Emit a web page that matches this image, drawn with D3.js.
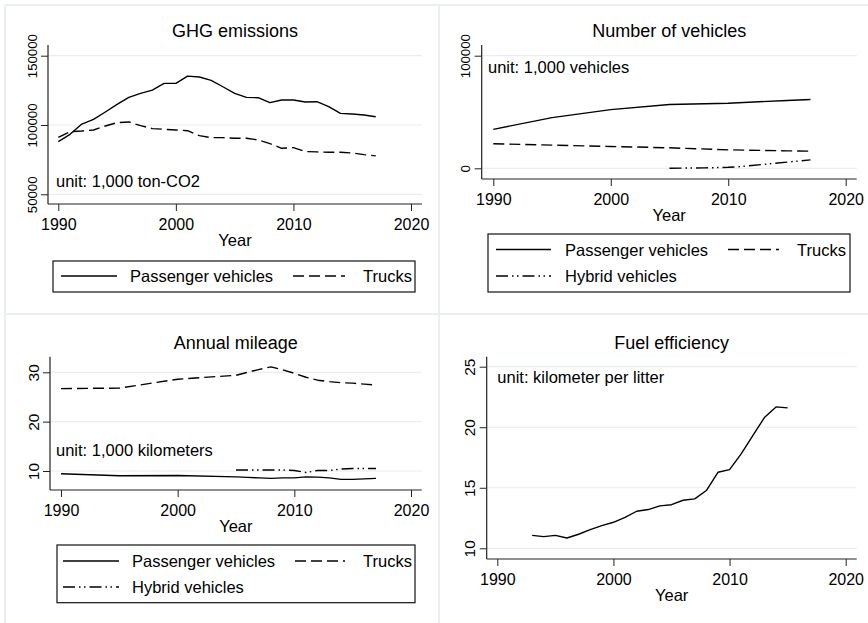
<!DOCTYPE html>
<html lang="en">
<head>
<meta charset="UTF-8">
<title>Vehicles</title>
<script src="https://d3js.org/d3.v7.min.js"></script>
<style>
  body { margin: 0; background: #fff; }
  svg text { font-family: "Liberation Sans", Arial, sans-serif; fill: #000; }
</style>
</head>
<body>
<div id="chart"></div>
<script>
// ---- data ----
const ghgYears = [1990, 1991, 1992, 1993, 1994, 1995, 1996, 1997, 1998, 1999, 2000, 2001, 2002, 2003,
                  2004, 2005, 2006, 2007, 2008, 2009, 2010, 2011, 2012, 2013, 2014, 2015, 2016, 2017]
const ghgPassenger = [88000, 93300, 100700, 104100, 109400, 114900, 119900, 122800, 125200, 130000, 130000,
                      135300, 134600, 132200, 127600, 122800, 119900, 119700, 116100, 118000, 118000, 116600,
                      116800, 113200, 108400, 107900, 107200, 106000]
const ghgTrucks = [91100, 95200, 95700, 96400, 99300, 101700, 102200, 99500, 97400, 96900, 96400, 95900,
                   92300, 90900, 90900, 90400, 90400, 89200, 86600, 83200, 83700, 80800, 80600, 80300,
                   80300, 79800, 78600, 77700]

const vehYears = [1990, 1995, 2000, 2005, 2010, 2015, 2017]
const vehPassenger = [34600, 45000, 52100, 56600, 57800, 60200, 61100]
const vehTrucks = [21800, 20600, 19400, 18200, 16400, 15500, 15200]
const hybridYears = [2005, 2006, 2007, 2008, 2009, 2010, 2011, 2012, 2013, 2014, 2015, 2016, 2017]
const vehHybrid = [100, 200, 300, 400, 600, 900, 1500, 2500, 3500, 4500, 5500, 6500, 7500]

const mileYears = [1990, 1995, 2000, 2005, 2006, 2007, 2008, 2009, 2010, 2011, 2012, 2013, 2014, 2015, 2016, 2017]
const milePassenger = [9.45, 9.05, 9.1, 8.8, 8.7, 8.6, 8.5, 8.6, 8.6, 8.8, 8.75, 8.6, 8.3, 8.3, 8.4, 8.5]
const mileTrucks = [26.7, 26.8, 28.6, 29.4, 30.0, 30.6, 31.1, 30.5, 29.8, 29.0, 28.4, 28.1, 27.9, 27.8, 27.6, 27.4]
const mileHybrid = [10.2, 10.2, 10.2, 10.2, 10.2, 10.1, 9.7, 10.1, 10.1, 10.4, 10.5, 10.5, 10.5]

const fuelYears = [1993, 1994, 1995, 1996, 1997, 1998, 1999, 2000, 2001, 2002, 2003, 2004, 2005, 2006,
                   2007, 2008, 2009, 2010, 2011, 2012, 2013, 2014, 2015]
const fuelEff = [11.07, 10.96, 11.07, 10.85, 11.16, 11.54, 11.87, 12.15, 12.56, 13.06, 13.2, 13.5, 13.6,
                 13.97, 14.08, 14.77, 16.28, 16.5, 17.8, 19.3, 20.8, 21.68, 21.6]

const xTicks = [1990, 2000, 2010, 2020]
const seriesNames = ["Passenger vehicles", "Trucks", "Hybrid vehicles"]

const width = 868
const height = 623
const dashes = { solid: null, dash: "11,5", dashdot: "12,4,1.5,3.5,1.5,4" }

const svg = d3.select("#chart").append("svg")
    .attr("width", width)
    .attr("height", height)

// light frame lines between the sub-graphs
const frame = svg.append("g").attr("stroke", "#eaeff2").attr("stroke-width", 2)
frame.append("line").attr("x1", 5).attr("x2", width).attr("y1", 5).attr("y2", 5)
frame.append("line").attr("x1", 5).attr("x2", width).attr("y1", 314).attr("y2", 314)
frame.append("line").attr("x1", 5).attr("x2", 5).attr("y1", 5).attr("y2", height)
frame.append("line").attr("x1", 439).attr("x2", 439).attr("y1", 5).attr("y2", height)

const panels = [
  { title: "GHG emissions", unit: "unit: 1,000 ton-CO2", ux: 56, uy: 187,
    left: 48, right: 422, top: 45, bottom: 204, xr: [58.3, 411],
    yd: [50000, 150000], yr: [194.3, 55.7], yTicks: [50000, 100000, 150000], ySize: 13.2,
    series: [
      { x: ghgYears, y: ghgPassenger, style: "solid" },
      { x: ghgYears, y: ghgTrucks, style: "dash" }
    ],
    legend: { x0: 53, x1: 415, y0: 261, y1: 292, rows: [276],
      items: [{ name: 0, style: "solid", row: 0, sx: 61, ex: 117, tx: 130 },
              { name: 1, style: "dash", row: 0, sx: 293, ex: 345, tx: 363 }] } },
  { title: "Number of vehicles", unit: "unit: 1,000 vehicles", ux: 488, uy: 73,
    left: 481.7, right: 856.7, top: 45, bottom: 179, xr: [493.3, 845.7],
    yd: [0, 100000], yr: [168.3, 55.7], yTicks: [0, 100000], ySize: 13.2,
    series: [
      { x: vehYears, y: vehPassenger, style: "solid" },
      { x: vehYears, y: vehTrucks, style: "dash" },
      { x: hybridYears, y: vehHybrid, style: "dashdot" }
    ],
    legend: { x0: 488, x1: 850, y0: 234, y1: 292, rows: [249.5, 276],
      items: [{ name: 0, style: "solid", row: 0, sx: 496, ex: 551, tx: 565 },
              { name: 1, style: "dash", row: 0, sx: 728, ex: 779, tx: 797 },
              { name: 2, style: "dashdot", row: 1, sx: 496, ex: 551, tx: 565 }] } },
  { title: "Annual mileage", unit: "unit: 1,000 kilometers", ux: 56, uy: 455.5,
    left: 50, right: 421.7, top: 356.7, bottom: 490, xr: [61, 411],
    yd: [10, 30], yr: [471, 372.3], yTicks: [10, 20, 30], ySize: 15.5,
    series: [
      { x: mileYears, y: milePassenger, style: "solid" },
      { x: mileYears, y: mileTrucks, style: "dash" },
      { x: hybridYears, y: mileHybrid, style: "dashdot" }
    ],
    legend: { x0: 57, x1: 415, y0: 545, y1: 602.7, rows: [561, 587],
      items: [{ name: 0, style: "solid", row: 0, sx: 63, ex: 119, tx: 132 },
              { name: 1, style: "dash", row: 0, sx: 295, ex: 345, tx: 363 },
              { name: 2, style: "dashdot", row: 1, sx: 63, ex: 119, tx: 132 }] } },
  { title: "Fuel efficiency", unit: "unit: kilometer per litter", ux: 497.3, uy: 382.5,
    left: 486.7, right: 856.7, top: 356.7, bottom: 559, xr: [497.3, 845.7],
    yd: [10, 25], yr: [548.3, 366.7], yTicks: [10, 15, 20, 25], ySize: 15.5,
    series: [
      { x: fuelYears, y: fuelEff, style: "solid" }
    ],
    legend: null }
]

panels.forEach(function(p) {
  const g = svg.append("g")
  const x = d3.scaleLinear().domain([1990, 2020]).range(p.xr)
  const y = d3.scaleLinear().domain(p.yd).range(p.yr)
  const cx = (p.left + p.right) / 2

  // grid lines
  g.append("g").selectAll("line").data(p.yTicks).enter().append("line")
    .attr("x1", p.left).attr("x2", p.right)
    .attr("y1", d => y(d)).attr("y2", d => y(d))
    .attr("stroke", "#e6eef0").attr("stroke-width", 1.2)

  // x axis
  const xa = g.append("g").attr("transform", "translate(0," + p.bottom + ")")
    .call(d3.axisBottom(x).tickValues(xTicks).tickSize(7).tickPadding(8).tickFormat(d3.format("d")))
  xa.select(".domain").remove()
  xa.selectAll("line").attr("stroke", "#222")
  xa.selectAll("text").attr("font-size", 16).attr("font-family", "Liberation Sans, Arial, sans-serif")
  g.append("line").attr("x1", p.left).attr("x2", p.right).attr("y1", p.bottom).attr("y2", p.bottom)
    .attr("stroke", "#222").attr("stroke-width", 1.2)

  // y axis
  const ya = g.append("g").attr("transform", "translate(" + p.left + ",0)")
    .call(d3.axisLeft(y).tickValues(p.yTicks).tickSize(7).tickFormat(d3.format("d")))
  ya.select(".domain").remove()
  ya.selectAll("line").attr("stroke", "#222")
  ya.selectAll("text")
    .attr("x", null).attr("dy", null)
    .attr("text-anchor", "middle")
    .attr("transform", "translate(-11.5,0) rotate(-90)")
    .attr("font-size", p.ySize).attr("font-family", "Liberation Sans, Arial, sans-serif")
  g.append("line").attr("x1", p.left).attr("x2", p.left).attr("y1", p.top).attr("y2", p.bottom)
    .attr("stroke", "#222").attr("stroke-width", 1.2)

  // series lines
  const line = d3.line().x(d => x(d[0])).y(d => y(d[1]))
  p.series.forEach(function(s) {
    g.append("path")
      .attr("d", line(d3.zip(s.x, s.y)))
      .attr("fill", "none")
      .attr("stroke", "#000")
      .attr("stroke-width", 1.4)
      .attr("stroke-linejoin", "round")
      .attr("stroke-dasharray", dashes[s.style])
  })

  // titles and labels
  g.append("text").attr("x", cx).attr("y", p.top - 8).attr("text-anchor", "middle")
    .attr("font-size", 18).text(p.title)
  g.append("text").attr("x", cx).attr("y", p.bottom + 42).attr("text-anchor", "middle")
    .attr("font-size", 16.5).text("Year")
  g.append("text").attr("x", p.ux).attr("y", p.uy).attr("font-size", 16.5).text(p.unit)

  // legend
  if (p.legend) {
    const L = p.legend
    g.append("rect").attr("x", L.x0).attr("y", L.y0)
      .attr("width", L.x1 - L.x0).attr("height", L.y1 - L.y0)
      .attr("fill", "#fff").attr("stroke", "#111").attr("stroke-width", 1.2)
    L.items.forEach(function(it) {
      const ly = L.rows[it.row]
      g.append("line").attr("x1", it.sx).attr("x2", it.ex).attr("y1", ly).attr("y2", ly)
        .attr("stroke", "#000").attr("stroke-width", 1.4)
        .attr("stroke-dasharray", dashes[it.style])
      g.append("text").attr("x", it.tx).attr("y", ly + 6).attr("font-size", 16.5)
        .text(seriesNames[it.name])
    })
  }
})
</script>
</body>
</html>
